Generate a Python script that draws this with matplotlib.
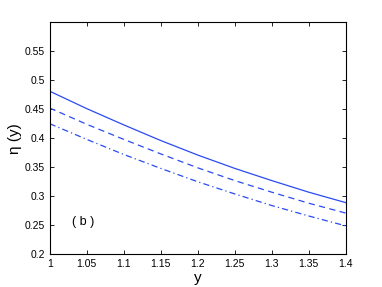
import numpy as np
import matplotlib.pyplot as plt

plt.rcParams['font.family'] = ['Liberation Sans', 'DejaVu Sans']

y = [1.0, 1.05, 1.1, 1.15, 1.2, 1.25, 1.3, 1.35, 1.4]
eta_solid = [0.481, 0.451, 0.423, 0.396, 0.371, 0.348, 0.327, 0.307, 0.289]
eta_dash = [0.452, 0.424, 0.398, 0.373, 0.349, 0.327, 0.307, 0.288, 0.271]
eta_dashdot = [0.425, 0.398, 0.372, 0.348, 0.325, 0.304, 0.284, 0.266, 0.249]

col = '#2a4bf2'

fig = plt.figure(figsize=(3.82, 2.87), dpi=100)
ax = fig.add_axes([0.130, 0.114, 0.775, 0.809])

ax.plot(y, eta_solid, '-', color=col, lw=0.9)
ax.plot(y, eta_dash, '--', color=col, lw=0.9, dashes=(5, 3.5))
ax.plot(y, eta_dashdot, '-.', color=col, lw=0.9, dashes=(5, 2.5, 1, 2.5))

ax.set_xlim(1, 1.4)
ax.set_ylim(0.2, 0.6)
ax.set_xticks([1, 1.05, 1.1, 1.15, 1.2, 1.25, 1.3, 1.35, 1.4])
ax.set_xticklabels(['1', '1.05', '1.1', '1.15', '1.2', '1.25', '1.3', '1.35', '1.4'])
ax.set_yticks([0.2, 0.25, 0.3, 0.35, 0.4, 0.45, 0.5, 0.55])
ax.set_yticklabels(['0.2', '0.25', '0.3', '0.35', '0.4', '0.45', '0.5', '0.55'])
ax.tick_params(direction='in', top=True, right=True, labelsize=7.5, length=3, width=0.6)
for s in ax.spines.values():
    s.set_linewidth(0.8)

ax.set_xlabel('y', fontsize=11, labelpad=1)
ax.set_ylabel('η (y)', fontsize=11, labelpad=2)
ax.text(1.03, 0.255, '( b )', fontsize=9, va='center')

fig.savefig('out.png', dpi=100)
